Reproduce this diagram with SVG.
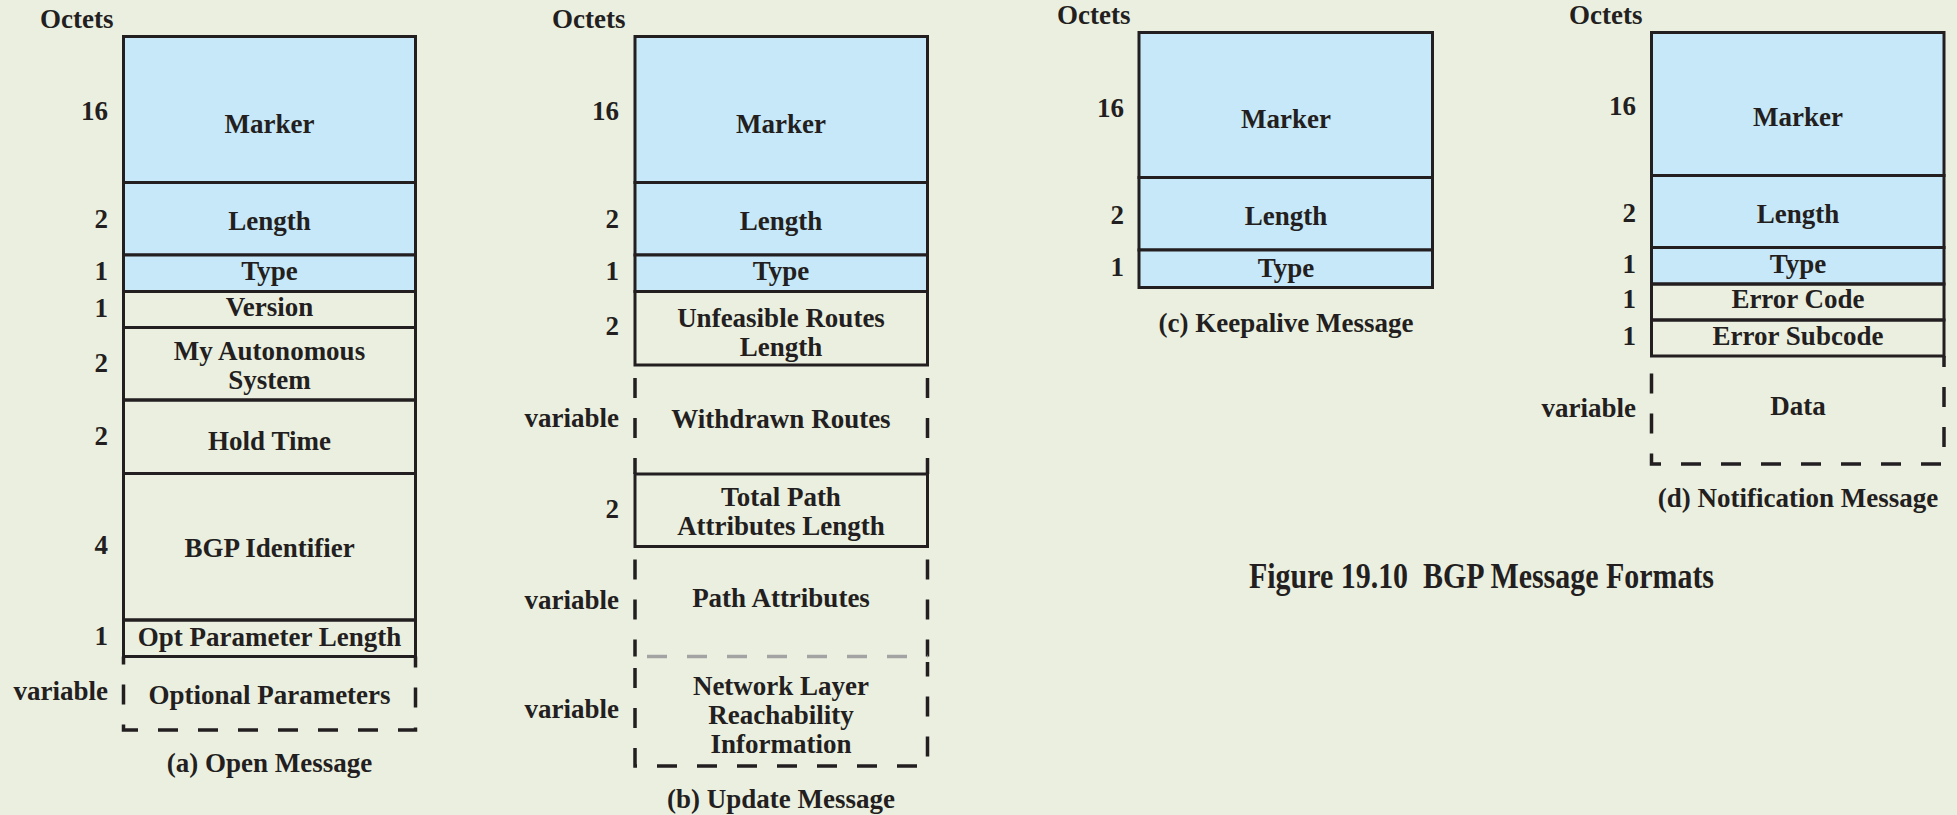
<svg xmlns="http://www.w3.org/2000/svg" width="1957" height="815" viewBox="0 0 1957 815">
<style>
text{font-family:"Liberation Serif","Times New Roman",serif;font-weight:bold;font-size:27px;fill:#231F20}
.c{text-anchor:middle}
.r{text-anchor:end}
.blue{fill:#C7E8F8;stroke:#231F20;stroke-width:3}
.plain{fill:none;stroke:#231F20;stroke-width:3}
.dash{fill:none;stroke:#231F20;stroke-width:3.5;stroke-dasharray:20 20}
.gdash{fill:none;stroke:#A3A3A3;stroke-width:3.5;stroke-dasharray:20 20}
</style>
<rect x="0" y="0" width="1957" height="815" fill="#EBEFE0"/>

<!-- (a) Open Message -->
<g id="open">
  <text x="40" y="28">Octets</text>
  <g id="a-marker"><rect class="blue" x="123.5" y="36.5" width="292" height="146"/><text class="c" x="269.5" y="133">Marker</text><text class="r" x="108" y="120">16</text></g>
  <g id="a-length"><rect class="blue" x="123.5" y="182.5" width="292" height="72.5"/><text class="c" x="269.5" y="230">Length</text><text class="r" x="108" y="228">2</text></g>
  <g id="a-type"><rect class="blue" x="123.5" y="255" width="292" height="36.5"/><text class="c" x="269.5" y="280">Type</text><text class="r" x="108" y="280">1</text></g>
  <g id="a-version"><rect class="plain" x="123.5" y="291.5" width="292" height="36"/><text class="c" x="269.5" y="316">Version</text><text class="r" x="108" y="317">1</text></g>
  <g id="a-myas"><rect class="plain" x="123.5" y="327.5" width="292" height="72.5"/><text class="c" x="269.5" y="360">My Autonomous</text><text class="c" x="269.5" y="389">System</text><text class="r" x="108" y="372">2</text></g>
  <g id="a-hold"><rect class="plain" x="123.5" y="400" width="292" height="73.5"/><text class="c" x="269.5" y="450">Hold Time</text><text class="r" x="108" y="445">2</text></g>
  <g id="a-bgpid"><rect class="plain" x="123.5" y="473.5" width="292" height="146.5"/><text class="c" x="269.5" y="557">BGP Identifier</text><text class="r" x="108" y="554">4</text></g>
  <g id="a-optlen"><rect class="plain" x="123.5" y="620" width="292" height="36.5"/><text class="c" x="269.5" y="646">Opt Parameter Length</text><text class="r" x="108" y="645">1</text></g>
  <g id="a-optparams"><path class="dash" d="M415.5,656.5 V730 H123.5 V656.5" stroke-dashoffset="9"/><text class="c" x="269.5" y="704">Optional Parameters</text><text class="r" x="108" y="700">variable</text></g>
  <text class="c" x="269.5" y="772">(a) Open Message</text>
</g>

<!-- (b) Update Message -->
<g id="update">
  <text x="552" y="28">Octets</text>
  <g id="b-marker"><rect class="blue" x="635" y="36.5" width="292.5" height="146"/><text class="c" x="781" y="133">Marker</text><text class="r" x="619" y="120">16</text></g>
  <g id="b-length"><rect class="blue" x="635" y="182.5" width="292.5" height="72.5"/><text class="c" x="781" y="230">Length</text><text class="r" x="619" y="228">2</text></g>
  <g id="b-type"><rect class="blue" x="635" y="255" width="292.5" height="36.5"/><text class="c" x="781" y="280">Type</text><text class="r" x="619" y="280">1</text></g>
  <g id="b-unfeasible"><rect class="plain" x="635" y="291.5" width="292.5" height="73.5"/><text class="c" x="781" y="327">Unfeasible Routes</text><text class="c" x="781" y="356">Length</text><text class="r" x="619" y="335">2</text></g>
  <g id="b-withdrawn"><path class="dash" d="M635,365 V474 M927.5,365 V474" stroke-dashoffset="-13"/><text class="c" x="781" y="428">Withdrawn Routes</text><text class="r" x="619" y="427">variable</text></g>
  <g id="b-totalpath"><rect class="plain" x="635" y="474" width="292.5" height="72.5"/><text class="c" x="781" y="506">Total Path</text><text class="c" x="781" y="535">Attributes Length</text><text class="r" x="619" y="518">2</text></g>
  <g id="b-pathattr"><path class="dash" d="M635,546.5 V656.5 M927.5,546.5 V656.5" stroke-dashoffset="-13"/><text class="c" x="781" y="607">Path Attributes</text><text class="r" x="619" y="609">variable</text></g>
  <g id="b-nlri"><path class="gdash" d="M635,656.5 H927.5" stroke-dashoffset="-12"/><path class="dash" d="M635,662 V766 H927.5 V662" stroke-dashoffset="-6"/><text class="c" x="781" y="695">Network Layer</text><text class="c" x="781" y="724">Reachability</text><text class="c" x="781" y="753">Information</text><text class="r" x="619" y="718">variable</text></g>
  <text class="c" x="781" y="808">(b) Update Message</text>
</g>

<!-- (c) Keepalive Message -->
<g id="keepalive">
  <text x="1057" y="24">Octets</text>
  <g id="c-marker"><rect class="blue" x="1139" y="32.5" width="293.5" height="145"/><text class="c" x="1286" y="128">Marker</text><text class="r" x="1124" y="117">16</text></g>
  <g id="c-length"><rect class="blue" x="1139" y="177.5" width="293.5" height="72.5"/><text class="c" x="1286" y="225">Length</text><text class="r" x="1124" y="224">2</text></g>
  <g id="c-type"><rect class="blue" x="1139" y="250" width="293.5" height="37.5"/><text class="c" x="1286" y="277">Type</text><text class="r" x="1124" y="276">1</text></g>
  <text class="c" x="1286" y="332">(c) Keepalive Message</text>
</g>

<!-- (d) Notification Message -->
<g id="notification">
  <text x="1569" y="24">Octets</text>
  <g id="d-marker"><rect class="blue" x="1651.5" y="32.5" width="292.5" height="143"/><text class="c" x="1798" y="126">Marker</text><text class="r" x="1636" y="115">16</text></g>
  <g id="d-length"><rect class="blue" x="1651.5" y="175.5" width="292.5" height="72"/><text class="c" x="1798" y="223">Length</text><text class="r" x="1636" y="222">2</text></g>
  <g id="d-type"><rect class="blue" x="1651.5" y="247.5" width="292.5" height="36.5"/><text class="c" x="1798" y="273">Type</text><text class="r" x="1636" y="273">1</text></g>
  <g id="d-errcode"><rect class="plain" x="1651.5" y="284" width="292.5" height="36"/><text class="c" x="1798" y="308">Error Code</text><text class="r" x="1636" y="308">1</text></g>
  <g id="d-errsub"><rect class="plain" x="1651.5" y="320" width="292.5" height="36"/><text class="c" x="1798" y="345">Error Subcode</text><text class="r" x="1636" y="345">1</text></g>
  <g id="d-data"><path class="dash" d="M1944,356 V464 H1651.5 V356" stroke-dashoffset="9"/><text class="c" x="1798" y="415">Data</text><text class="r" x="1636" y="417">variable</text></g>
  <text class="c" x="1798" y="507">(d) Notification Message</text>
</g>

<g id="connectors"></g>

<text id="title" x="1249" y="588" xml:space="preserve" style="font-size:35px;white-space:pre" textLength="465" lengthAdjust="spacingAndGlyphs">Figure 19.10  BGP Message Formats</text>
</svg>
